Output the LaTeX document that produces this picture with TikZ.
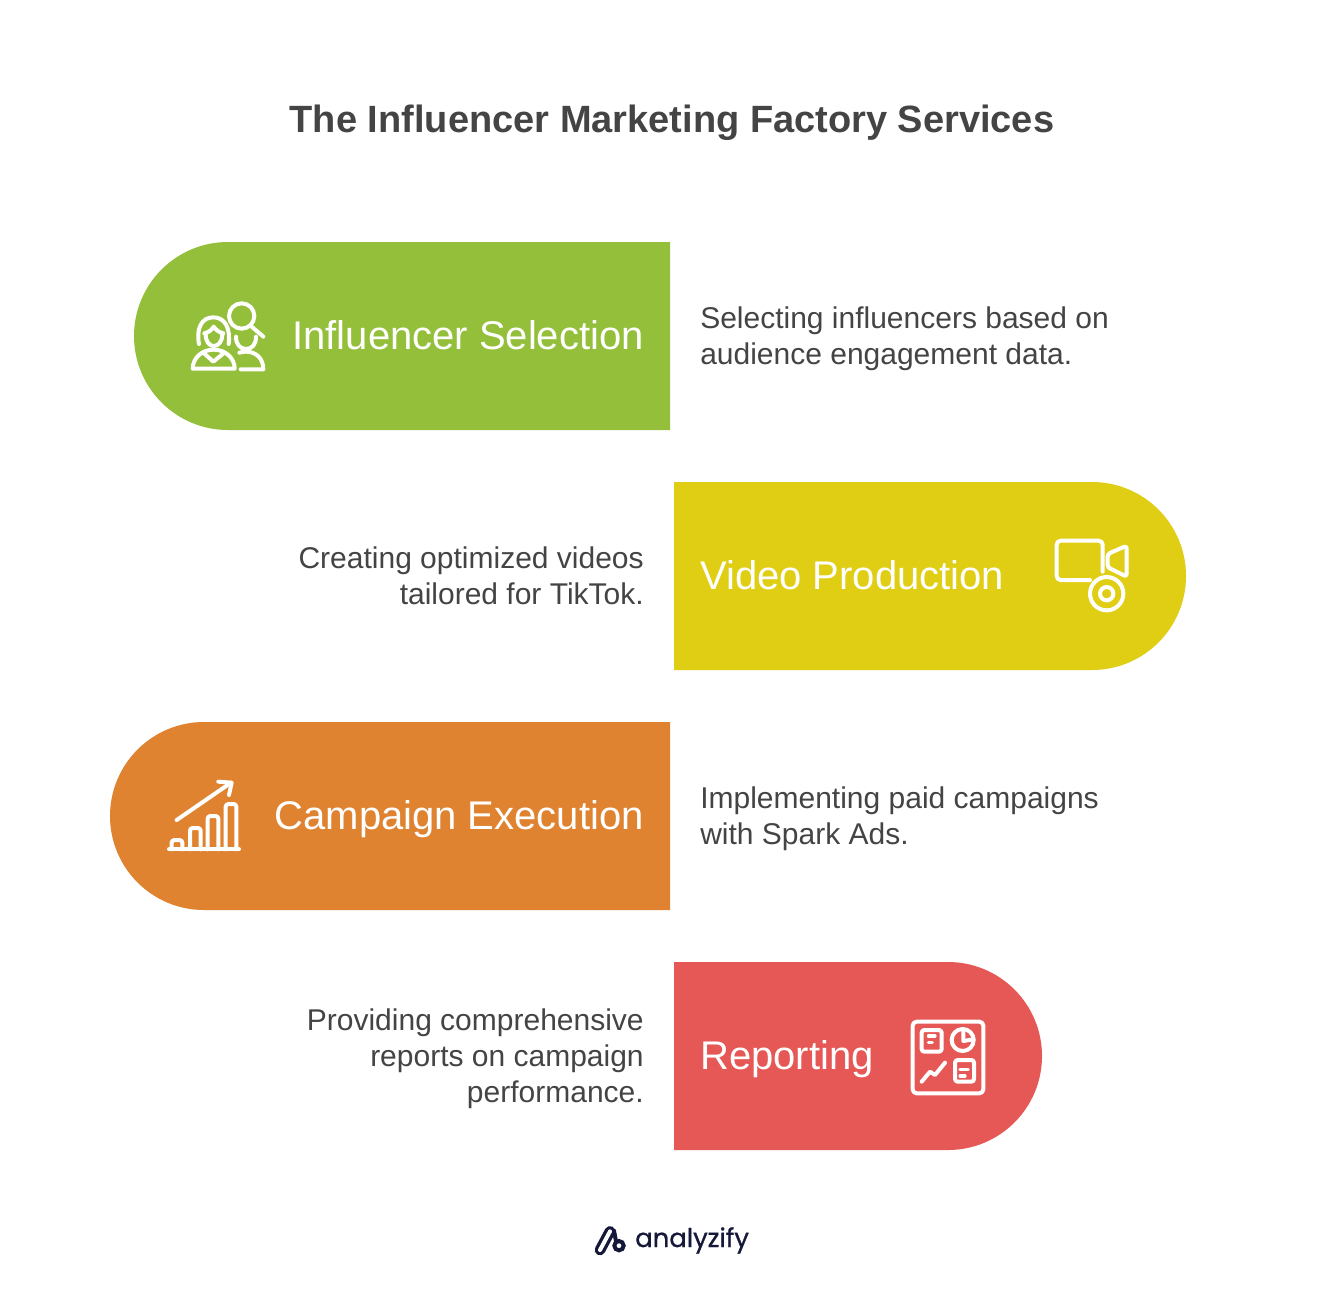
\documentclass[tikz,border=0pt]{standalone}
\usepackage{fontspec}
\setmainfont{Liberation Sans}
\newfontfamily\logofont[FakeBold=0.8]{Poppins}
\definecolor{inkgray}{HTML}{444444}
\definecolor{pgreen}{HTML}{94BF3A}
\definecolor{pyellow}{HTML}{E0CE15}
\definecolor{porange}{HTML}{DF8331}
\definecolor{pred}{HTML}{E65855}
\definecolor{logoink}{HTML}{16183A}
\tikzset{
  pill/.style={draw=none},
  titletext/.style={inner sep=0pt,text=inkgray,font=\fontsize{28.5}{34}\selectfont\bfseries},
  labeltext/.style={inner sep=0pt,text=white,font=\fontsize{30}{36}\selectfont},
  desctext/.style={inner sep=0pt,text=inkgray,font=\fontsize{22.5}{27}\selectfont},
  iconline/.style={draw=white,line width=3pt,line cap=round,line join=round,fill=none},
  iconthin/.style={draw=white,line width=2.4pt,line cap=round,line join=round,fill=none},
  izoom/.style={x=0.25pt,y=-0.25pt}
}
\begin{document}
\begin{tikzpicture}[x=0.75pt,y=-0.75pt]
\useasboundingbox[fill=white] (0,0) rectangle (1344,1296);
\node[titletext,anchor=base] (title) at (672,132) {The Influencer Marketing Factory Services};

% pills
\fill[pgreen,pill]  (670,242) -- (228,242) arc[start angle=90,end angle=270,radius=94*0.75pt] -- (670,430) -- cycle;
\fill[pyellow,pill] (674,482) -- (1092,482) arc[start angle=90,end angle=-90,radius=94*0.75pt] -- (674,670) -- cycle;
\fill[porange,pill] (670,722) -- (204,722) arc[start angle=90,end angle=270,radius=94*0.75pt] -- (670,910) -- cycle;
\fill[pred,pill]    (674,962) -- (948,962) arc[start angle=90,end angle=-90,radius=94*0.75pt] -- (674,1150) -- cycle;

% labels
\node[labeltext,anchor=base east] (l1) at (644,349) {Influencer Selection};
\node[labeltext,anchor=base west] (l2) at (700,589) {Video Production};
\node[labeltext,anchor=base east] (l3) at (644,829) {Campaign Execution};
\node[labeltext,anchor=base west] (l4) at (700,1069) {Reporting};

% descriptions
\node[desctext,anchor=west,align=left] (d1) at (700,339) {Selecting influencers based on\\audience engagement data.};
\node[desctext,anchor=east,align=right] (d2) at (644,576) {Creating optimized videos\\tailored for TikTok.};
\node[desctext,anchor=west,align=left] (d3) at (700,819) {Implementing paid campaigns\\with Spark Ads.};
\node[desctext,anchor=east,align=right] (d4) at (644,1059) {Providing comprehensive\\reports on campaign\\performance.};

% icon 1: people and magnifier
\begin{scope}[shift={(170,290)},izoom]
  \draw[iconline] (215,78) circle[radius=38];
  \draw[iconline] (245,110) -- (280,140);
  \draw[iconline] (87,162) .. controls (78,115) and (95,82) .. (130,82) .. controls (165,82) and (182,115) .. (176,162);
  \draw[iconline] (107,132) .. controls (107,155) and (118,168) .. (131,168) .. controls (145,168) and (157,155) .. (157,132);
  \draw[iconline] (103,130) .. controls (116,127) and (125,120) .. (131,110) .. controls (138,120) and (147,127) .. (160,130);
  \draw[iconline] (68,236) .. controls (68,205) and (95,179) .. (131,179) .. controls (167,179) and (194,205) .. (194,236) -- cycle;
  \draw[iconline] (100,188) -- (130,215) -- (163,188);
  \draw[iconline] (198,140) .. controls (198,165) and (212,177) .. (228,177) .. controls (245,177) and (258,165) .. (258,140);
  \draw[iconline] (212,238) -- (280,238) .. controls (280,205) and (258,185) .. (228,185) .. controls (222,185) and (215,186) .. (208,188);
\end{scope}

% icon 2: video camera
\begin{scope}[shift={(1040,530)},izoom]
  \draw[iconline,rounded corners=3pt] (150,150) -- (50,150) -- (50,32) -- (188,32) -- (188,125);
  \draw[iconline,rounded corners=2pt] (203,72) -- (260,47) -- (260,140) -- (203,112) -- cycle;
  \draw[iconline] (200,191) circle[radius=50];
  \draw[iconline] (200,191) circle[radius=20];
\end{scope}

% icon 3: chart
\begin{scope}[shift={(155,770)},izoom]
  \draw[iconline] (42,238) -- (252,238);
  \draw[iconline,rounded corners=2pt] (50,238) -- (50,210) -- (82,210) -- (82,238);
  \draw[iconline,rounded corners=2pt] (105,238) -- (105,174) -- (137,174) -- (137,238);
  \draw[iconline,rounded corners=2pt] (158,238) -- (158,138) -- (190,138) -- (190,238);
  \draw[iconline,rounded corners=2pt] (212,238) -- (212,102) -- (244,102) -- (244,238);
  \draw[iconline] (65,150) -- (228,38);
  \draw[iconline] (190,35) -- (230,38) -- (222,75);
\end{scope}

% icon 4: dashboard
\begin{scope}[shift={(900,1010)},izoom]
  \draw[iconline,rounded corners=3pt] (38,35) rectangle (250,250);
  \draw[iconline,rounded corners=2pt] (65,60) rectangle (125,125);
  \draw[iconthin] (85,78) -- (105,78) (85,98) -- (97,98);
  \draw[iconline] (188,90) circle[radius=33];
  \draw[iconline] (190,62) -- (190,93) -- (220,88);
  \draw[iconline,rounded corners=2pt] (165,150) rectangle (222,215);
  \draw[iconthin] (180,178) -- (205,178) (180,198) -- (195,198);
  \draw[iconline] (65,215) -- (90,185) -- (105,195) -- (135,158);
\end{scope}

% logo
\begin{scope}[shift={(590,1222)},izoom]
  \draw[logoink,line width=8pt,line cap=round] (30,84) -- (60,28);
  \draw[white,line width=3pt,line cap=round] (30,84) -- (60,28);
  \draw[logoink,line width=3pt,line cap=round] (72,26) -- (78,58);
  \draw[logoink,line width=3pt] (87,71) circle[radius=14];
\end{scope}
\node[inner sep=0pt,anchor=base west,text=logoink,font=\logofont\fontsize{19.4}{24}\selectfont] (logo) at (635,1247) {analyzify};
\end{tikzpicture}
\end{document}
